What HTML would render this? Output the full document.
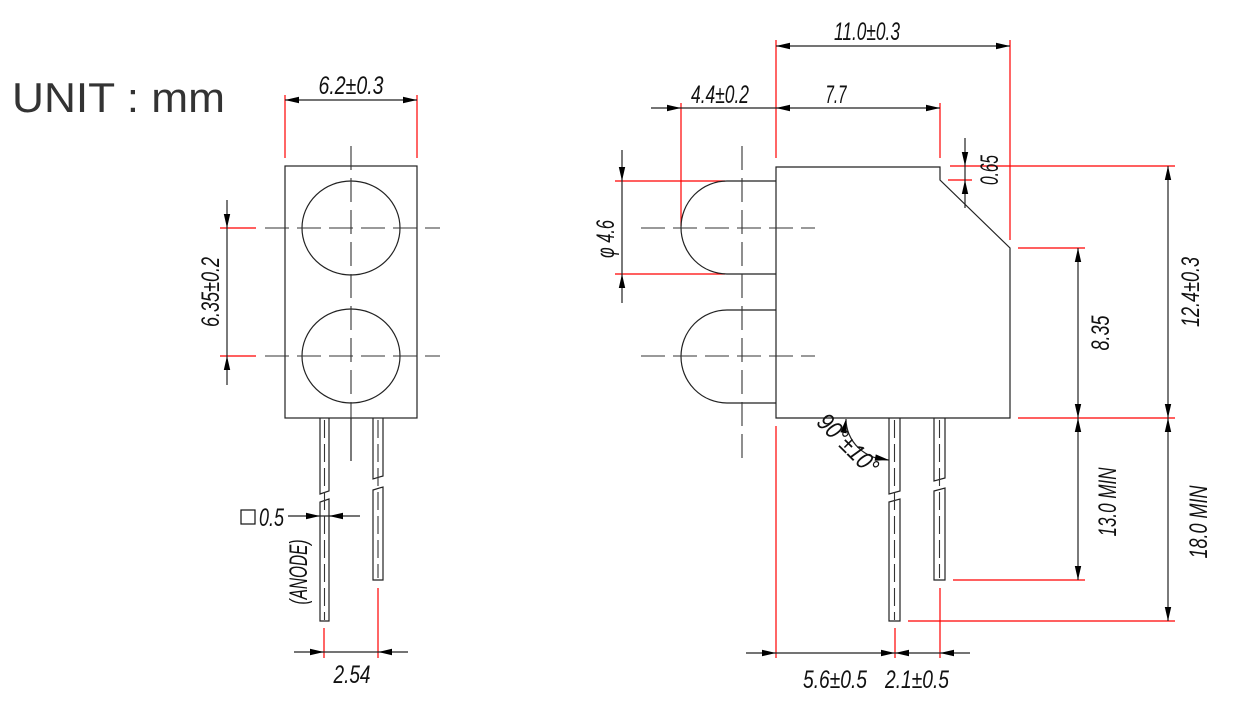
<!DOCTYPE html>
<html><head><meta charset="utf-8"><style>
html,body{margin:0;padding:0;background:#fff;}
svg{display:block;}
text{font-family:"Liberation Sans Narrow","Liberation Sans",sans-serif;font-style:italic;font-size:25px;fill:#111;}
</style></head><body>
<svg width="1256" height="718" viewBox="0 0 1256 718" xmlns="http://www.w3.org/2000/svg">
<defs><path id="a" d="M0 0 L-14 -3.2 L-14 3.2Z" fill="#000"/></defs>
<text x="12" y="112" style="font-family:'Liberation Sans',sans-serif;font-style:normal;font-size:42px;fill:#333" textLength="213" lengthAdjust="spacingAndGlyphs">UNIT : mm</text>

<!-- LEFT VIEW -->
<g stroke="#f00" stroke-width="1.2" fill="none">
<line x1="285" y1="95" x2="285" y2="158"/><line x1="417" y1="95" x2="417" y2="158"/>
<line x1="220" y1="228" x2="256" y2="228"/><line x1="220" y1="356" x2="256" y2="356"/>
<line x1="324" y1="628" x2="324" y2="658"/><line x1="378" y1="588" x2="378" y2="658"/>
</g>
<g stroke="#222" stroke-width="1.2" fill="none">
<rect x="285" y="166" width="132" height="252"/>
<ellipse cx="351" cy="228" rx="49" ry="47"/><ellipse cx="351" cy="356" rx="49" ry="47"/>
<line x1="285" y1="100" x2="417" y2="100"/>
<line x1="227" y1="200" x2="227" y2="385"/>
<line x1="288" y1="516" x2="360" y2="516"/>
<line x1="294" y1="652" x2="408" y2="652"/>
<path d="M320 418 V494 L329 491 V418"/><path d="M320 621 V502 L329 499 V621 Z"/>
<path d="M373 418 V479 L383 476 V418"/><path d="M373 580 V490 L383 487 V580 Z"/>
<line x1="351" y1="418" x2="351" y2="461"/>
</g>
<g stroke="#333" stroke-width="1.1" stroke-dasharray="24,8" fill="none">
<line x1="351" y1="146" x2="351" y2="418"/>
<line x1="265" y1="228" x2="440" y2="228"/><line x1="265" y1="356" x2="440" y2="356"/>
<line x1="324.5" y1="420" x2="324.5" y2="620" stroke-dasharray="18,6"/>
<line x1="378" y1="420" x2="378" y2="578" stroke-dasharray="18,6"/>
</g>
<use href="#a" transform="translate(285,100) rotate(180)"/><use href="#a" transform="translate(417,100)"/>
<use href="#a" transform="translate(227,228) rotate(90)"/><use href="#a" transform="translate(227,356) rotate(-90)"/>
<use href="#a" transform="translate(320,516)"/><use href="#a" transform="translate(329,516) rotate(180)"/>
<use href="#a" transform="translate(324,652)"/><use href="#a" transform="translate(378,652) rotate(180)"/>
<text x="351" y="94" text-anchor="middle" textLength="65" lengthAdjust="spacingAndGlyphs">6.2±0.3</text>
<text transform="translate(219,292) rotate(-90)" text-anchor="middle" textLength="70" lengthAdjust="spacingAndGlyphs">6.35±0.2</text>
<rect x="241" y="510" width="14" height="14" fill="none" stroke="#111" stroke-width="1.2"/>
<text x="259" y="526" textLength="25" lengthAdjust="spacingAndGlyphs">0.5</text>
<text transform="translate(307,572) rotate(-90)" text-anchor="middle" textLength="65" lengthAdjust="spacingAndGlyphs">(ANODE)</text>
<text x="352" y="683" text-anchor="middle" textLength="37" lengthAdjust="spacingAndGlyphs">2.54</text>

<!-- RIGHT VIEW -->
<g stroke="#f00" stroke-width="1.2" fill="none">
<line x1="776" y1="40" x2="776" y2="158"/><line x1="776" y1="426" x2="776" y2="658"/>
<line x1="1010" y1="40" x2="1010" y2="240"/>
<line x1="681" y1="103" x2="681" y2="226"/><line x1="940" y1="103" x2="940" y2="158"/>
<line x1="615" y1="181" x2="725" y2="181"/><line x1="615" y1="274" x2="725" y2="274"/>
<line x1="950" y1="166" x2="1175" y2="166"/><line x1="948" y1="180" x2="972" y2="180"/>
<line x1="1018" y1="248" x2="1085" y2="248"/>
<line x1="1018" y1="418" x2="1175" y2="418"/>
<line x1="953" y1="580" x2="1085" y2="580"/>
<line x1="908" y1="621" x2="1175" y2="621"/>
<line x1="895" y1="628" x2="895" y2="658"/><line x1="940" y1="588" x2="940" y2="658"/>
</g>
<g stroke="#222" stroke-width="1.2" fill="none">
<path d="M776 167 H940 V180 L1010 248 V418 H776 Z"/>
<path d="M776 181 H727 A46 46.5 0 0 0 727 274 H776"/>
<path d="M776 310 H727 A46 46.5 0 0 0 727 403 H776"/>
<line x1="776" y1="46" x2="1010" y2="46"/>
<line x1="651" y1="108" x2="940" y2="108"/>
<line x1="622" y1="150" x2="622" y2="303"/>
<line x1="965" y1="138" x2="965" y2="208"/>
<line x1="1168" y1="166" x2="1168" y2="621"/>
<line x1="1078" y1="248" x2="1078" y2="580"/>
<line x1="746" y1="653" x2="970" y2="653"/>
<path d="M846 419 A43 41 0 0 0 889 460"/>
<path d="M889 418 V494 L900 491 V418"/><path d="M889 621 V502 L900 499 V621 Z"/>
<path d="M934 418 V481 L945 478 V418"/><path d="M934 580 V491 L945 488 V580 Z"/>
</g>
<g stroke="#333" stroke-width="1.1" stroke-dasharray="24,8" fill="none">
<line x1="742" y1="146" x2="742" y2="462"/>
<line x1="641" y1="228" x2="815" y2="228"/><line x1="641" y1="356" x2="815" y2="356"/>
<line x1="894.5" y1="420" x2="894.5" y2="620" stroke-dasharray="18,6"/>
<line x1="939.5" y1="420" x2="939.5" y2="578" stroke-dasharray="18,6"/>
</g>
<use href="#a" transform="translate(776,46) rotate(180)"/><use href="#a" transform="translate(1010,46)"/>
<use href="#a" transform="translate(681,108)"/><use href="#a" transform="translate(776,108) rotate(180)"/><use href="#a" transform="translate(940,108)"/>
<use href="#a" transform="translate(622,181) rotate(90)"/><use href="#a" transform="translate(622,274) rotate(-90)"/>
<use href="#a" transform="translate(965,166) rotate(90)"/><use href="#a" transform="translate(965,180) rotate(-90)"/>
<use href="#a" transform="translate(1168,166) rotate(-90)"/><use href="#a" transform="translate(1168,418) rotate(90)"/>
<use href="#a" transform="translate(1168,418) rotate(-90)"/><use href="#a" transform="translate(1168,621) rotate(90)"/>
<use href="#a" transform="translate(1078,248) rotate(-90)"/><use href="#a" transform="translate(1078,418) rotate(90)"/>
<use href="#a" transform="translate(1078,418) rotate(-90)"/><use href="#a" transform="translate(1078,580) rotate(90)"/>
<use href="#a" transform="translate(776,653)"/><use href="#a" transform="translate(895,653)"/>
<use href="#a" transform="translate(895,653) rotate(180)"/><use href="#a" transform="translate(940,653) rotate(180)"/>
<use href="#a" transform="translate(846,419) rotate(-80)"/><use href="#a" transform="translate(889,460) rotate(10)"/>
<text x="867" y="40" text-anchor="middle" textLength="66" lengthAdjust="spacingAndGlyphs">11.0±0.3</text>
<text x="720" y="103" text-anchor="middle" textLength="58" lengthAdjust="spacingAndGlyphs">4.4±0.2</text>
<text x="836" y="103" text-anchor="middle" textLength="21" lengthAdjust="spacingAndGlyphs">7.7</text>
<text transform="translate(614,239) rotate(-90)" text-anchor="middle" textLength="38" lengthAdjust="spacingAndGlyphs">φ 4.6</text>
<text transform="translate(998,170) rotate(-90)" text-anchor="middle" textLength="30" lengthAdjust="spacingAndGlyphs">0.65</text>
<text transform="translate(1199,292) rotate(-90)" text-anchor="middle" textLength="70" lengthAdjust="spacingAndGlyphs">12.4±0.3</text>
<text transform="translate(1109,333) rotate(-90)" text-anchor="middle" textLength="35" lengthAdjust="spacingAndGlyphs">8.35</text>
<text transform="translate(1116,502) rotate(-90)" text-anchor="middle" textLength="69" lengthAdjust="spacingAndGlyphs">13.0 MIN</text>
<text transform="translate(1207,522) rotate(-90)" text-anchor="middle" textLength="73" lengthAdjust="spacingAndGlyphs">18.0 MIN</text>
<text transform="translate(842,450) rotate(45)" text-anchor="middle" textLength="75" lengthAdjust="spacingAndGlyphs">90°±10°</text>
<text x="835" y="688" text-anchor="middle" textLength="64" lengthAdjust="spacingAndGlyphs">5.6±0.5</text>
<text x="917" y="688" text-anchor="middle" textLength="64" lengthAdjust="spacingAndGlyphs">2.1±0.5</text>
</svg>
</body></html>
